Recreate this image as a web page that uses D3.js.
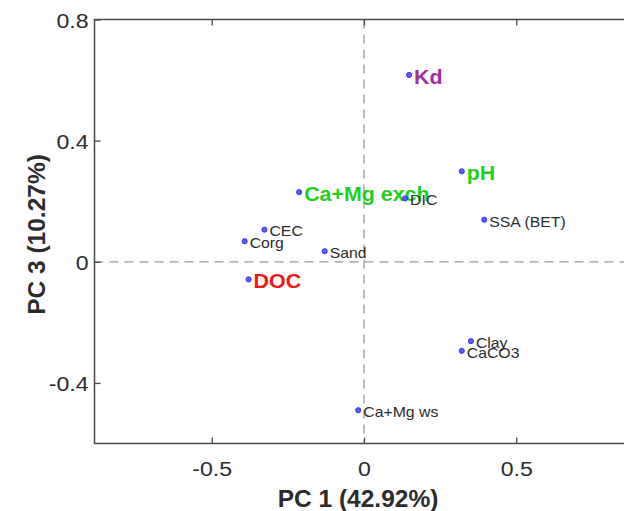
<!DOCTYPE html>
<html>
<head>
<meta charset="utf-8">
<script src="https://cdn.jsdelivr.net/npm/d3@7"></script>
<style>
  html, body { margin: 0; padding: 0; background: #fff; overflow: hidden; }
  svg { display: block; font-family: "Liberation Sans", Arial, Helvetica, sans-serif; }
</style>
</head>
<body>
<svg id="chart" width="624" height="511"></svg>
<script>
// PCA loadings: PC 1 vs PC 3
const variables = ["Kd", "Ca+Mg exch", "DIC", "pH", "SSA (BET)", "CEC", "Corg", "Sand", "DOC", "Clay", "CaCO3", "Ca+Mg ws"];
const pc1 = [0.148, -0.213, 0.135, 0.321, 0.395, -0.327, -0.392, -0.129, -0.379, 0.351, 0.321, -0.019];
const pc3 = [0.617, 0.230, 0.209, 0.299, 0.139, 0.106, 0.068, 0.035, -0.058, -0.262, -0.294, -0.490];
// label emphasis: "" = plain, otherwise highlight colour key
const emphasis = ["purple", "green", "", "green", "", "", "", "", "red", "", "", ""];

const xTicks = [-0.5, 0, 0.5];
const yTicks = [-0.4, 0, 0.4, 0.8];
const xDomain = [-0.885, 0.885];
const yDomain = [-0.6, 0.8];
const xTitle = "PC 1 (42.92%)";
const yTitle = "PC 3 (10.27%)";

const colours = { purple: "#9b2f9e", green: "#1fd01f", red: "#f21616", "": "#2b2b2b" };
const axisColour = "#4a4a4a";
const textColour = "#2b2b2b";

const svg = d3.select("#chart");
const plotLeft = 94.5, plotRight = 633.5, plotTop = 19.5, plotBottom = 443.5;

const x = d3.scaleLinear().domain(xDomain).range([plotLeft, plotRight]);
const y = d3.scaleLinear().domain(yDomain).range([plotBottom, plotTop]);

// tick labels with a plain hyphen as the minus sign
const tickFmt = d => String(d);

// zero reference lines
svg.append("line")
  .attr("x1", x(0)).attr("x2", x(0)).attr("y1", plotTop).attr("y2", plotBottom)
  .attr("stroke", "#9a9a9a").attr("stroke-width", 1.3).attr("stroke-dasharray", "9,6");
svg.append("line")
  .attr("x1", plotLeft).attr("x2", plotRight).attr("y1", y(0)).attr("y2", y(0))
  .attr("stroke", "#9a9a9a").attr("stroke-width", 1.3).attr("stroke-dasharray", "9,6");

// axes with inward ticks
const tickLen = 6;
const tickFont = 21, tickStretch = 1.1;

const gx = svg.append("g").attr("transform", `translate(0,${plotBottom})`)
  .call(d3.axisBottom(x).tickValues(xTicks).tickSizeInner(-tickLen).tickSizeOuter(0).tickFormat(tickFmt));
const gy = svg.append("g").attr("transform", `translate(${plotLeft},0)`)
  .call(d3.axisLeft(y).tickValues(yTicks).tickSizeInner(-tickLen).tickSizeOuter(0).tickFormat(tickFmt));
const gxTop = svg.append("g").attr("transform", `translate(0,${plotTop})`)
  .call(d3.axisTop(x).tickValues(xTicks).tickSizeInner(-tickLen).tickSizeOuter(0).tickFormat(""));
const gyRight = svg.append("g").attr("transform", `translate(${plotRight},0)`)
  .call(d3.axisRight(y).tickValues(yTicks).tickSizeInner(-tickLen).tickSizeOuter(0).tickFormat(""));

[gx, gy, gxTop, gyRight].forEach(g => {
  g.select(".domain").remove();
  g.selectAll(".tick line").attr("stroke", axisColour).attr("stroke-width", 1.3);
});

gx.selectAll(".tick text")
  .attr("y", null).attr("dy", null)
  .attr("transform", `translate(0,32) scale(${tickStretch},1)`)
  .attr("font-size", tickFont).attr("fill", textColour)
  .attr("font-family", "Liberation Sans, Arial, sans-serif");
gy.selectAll(".tick text")
  .attr("x", null).attr("dy", null)
  .attr("transform", `translate(-6,7.5) scale(${tickStretch},1)`)
  .attr("font-size", tickFont).attr("fill", textColour)
  .attr("font-family", "Liberation Sans, Arial, sans-serif");

// frame
svg.append("rect")
  .attr("x", plotLeft).attr("y", plotTop).attr("width", plotRight - plotLeft).attr("height", plotBottom - plotTop)
  .attr("fill", "none").attr("stroke", axisColour).attr("stroke-width", 1.5);

// axis titles
svg.append("text")
  .attr("x", 358).attr("y", 507)
  .attr("text-anchor", "middle").attr("font-weight", "bold").attr("font-size", 24.5)
  .attr("fill", textColour).text(xTitle);
svg.append("text")
  .attr("transform", `translate(45,${(plotTop + plotBottom) / 2 + 3}) rotate(-90)`)
  .attr("text-anchor", "middle").attr("font-weight", "bold").attr("font-size", 24.5)
  .attr("fill", textColour).text(yTitle);

// loadings: dot + label
const data = variables.map((name, i) => ({ name, px: pc1[i], py: pc3[i], emph: emphasis[i] }));
const pts = svg.append("g").selectAll("g").data(data).join("g")
  .attr("transform", d => `translate(${x(d.px)},${y(d.py)})`);

pts.append("circle")
  .attr("r", 2.6)
  .attr("fill", "#5a5aff").attr("stroke", "#2a2ae6").attr("stroke-width", 0.8);

pts.append("text")
  .each(function (d) {
    const big = d.emph !== "";
    const fs = big ? 20 : 14;
    const st = big ? 1.07 : 1.13;
    d3.select(this)
      .attr("transform", `translate(5,${0.358 * fs + 1.8}) scale(${st},1)`)
      .attr("font-size", fs)
      .attr("font-weight", big ? "bold" : "normal")
      .attr("fill", colours[d.emph]);
  })
  .text(d => d.name);
</script>
</body>
</html>
